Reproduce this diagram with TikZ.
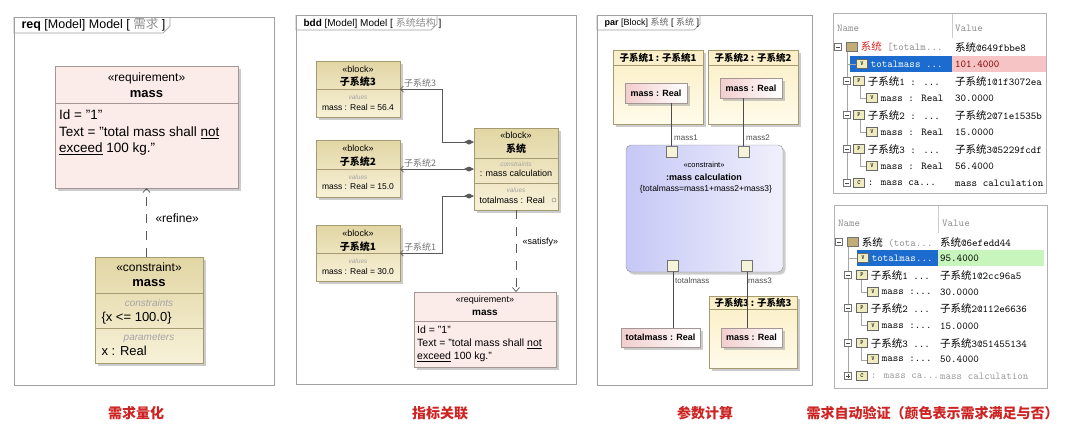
\documentclass[tikz,border=0pt]{standalone}
\usepackage{fontspec}
\setmainfont{Liberation Sans}
\newfontfamily\cjk{Noto Sans CJK SC}
\usetikzlibrary{arrows.meta, shadows, positioning}

\definecolor{framegray}{RGB}{160,160,160}
\definecolor{reqfill}{RGB}{251,236,233}
\definecolor{reqline}{RGB}{165,150,150}
\definecolor{tantop}{RGB}{226,214,164}
\definecolor{tanbot}{RGB}{247,241,216}
\definecolor{tanline}{RGB}{165,155,115}
\definecolor{parttop}{RGB}{250,238,196}
\definecolor{partbot}{RGB}{255,251,234}
\definecolor{proppink}{RGB}{242,205,205}
\definecolor{conblue}{RGB}{198,200,246}
\definecolor{conlight}{RGB}{240,240,252}
\definecolor{hintgray}{RGB}{165,165,165}
\definecolor{capred}{RGB}{205,35,35}
\definecolor{selblue}{RGB}{28,108,208}
\definecolor{badpink}{RGB}{246,196,196}
\definecolor{okgreen}{RGB}{200,245,188}
\definecolor{iconfill}{RGB}{238,236,190}
\definecolor{classbrown}{RGB}{196,172,120}

\newcommand{\fs}[2]{\fontsize{#1}{#2}\selectfont}
\newcommand{\zh}[1]{{\cjk #1}}
\newcommand{\qt}{\symbol{34}}
% one line of a value table: id, y, icon x, icon letter, name, value x, value
\newcommand{\trow}[7]{%
  \node[icon] (#1i) at (#3,#2) {#4};
  \node[cell, right=3pt of #1i] (#1n) {#5};
  \node[cell, anchor=west] (#1v) at (#6,#2) {#7};
}

\tikzset{
  frame/.style={draw=framegray, line width=0.7pt},
  wh/.style 2 args={minimum width=#1pt, minimum height=#2pt},
  boxshadow/.style={drop shadow={shadow xshift=2.5pt, shadow yshift=-2.5pt, fill=black!40}},
  reqbox/.style={draw=reqline, fill=reqfill, boxshadow, anchor=north west, inner sep=0pt, outer sep=0pt},
  tanbox/.style={draw=tanline, top color=tantop, bottom color=tanbot, boxshadow, anchor=north west, inner sep=0pt, outer sep=0pt},
  partbox/.style={draw=tanline, top color=parttop, bottom color=partbot, boxshadow, anchor=north west, inner sep=0pt, outer sep=0pt},
  propbox/.style={draw=reqline, left color=proppink, right color=white, boxshadow, anchor=north west, inner sep=0pt, outer sep=0pt, font=\fs{9}{10}\bfseries},
  conbox/.style={draw=black!45, rounded corners=5pt, left color=conblue, right color=conlight, boxshadow, anchor=north west, inner sep=0pt, outer sep=0pt},
  port/.style={draw=black!55, fill=iconfill!60, minimum size=11pt, inner sep=0pt, outer sep=0pt},
  reqsep/.style={draw=reqline, line width=0.6pt},
  tansep/.style={draw=tanline, line width=0.6pt},
  hint/.style={text=hintgray},
  body/.style={anchor=north west, align=left, inner sep=0pt},
  comp/.style={draw=black!65, line width=0.7pt, {Diamond[length=10pt,width=5pt]}-{Straight Barb[length=3pt,width=6pt]}},
  depend/.style={draw=black!65, line width=0.7pt, dash pattern=on 9pt off 8pt, -{Straight Barb[length=4pt,width=7pt]}},
  bind/.style={draw=black!70, line width=0.8pt},
  rolelbl/.style={text=black!55, font=\fs{9}{10}\cjk, inner sep=0pt},
  portlbl/.style={text=black!70, font=\fs{8}{9}, inner sep=0pt, anchor=west},
  icon/.style={draw=black!60, fill=iconfill, minimum width=11pt, minimum height=9pt, inner sep=0pt, font=\fs{6}{6}\bfseries\ttfamily},
  cell/.style={inner sep=0pt, font=\fs{10.5}{12}\ttfamily},
  treeline/.style={draw=black!35, line width=0.5pt},
  tableline/.style={draw=black!30, line width=0.7pt},
  caption/.style={text=capred, font=\fs{14}{16}\cjk\bfseries},
  tminus/.pic={\draw[black!55, fill=white, line width=0.4pt] (-3.5,-3.5) rectangle (3.5,3.5);
               \draw[black!70, line width=0.5pt] (-2,0) -- (2,0);},
  tplus/.pic={\draw[black!55, fill=white, line width=0.4pt] (-3.5,-3.5) rectangle (3.5,3.5);
              \draw[black!70, line width=0.5pt] (-2,0) -- (2,0) (0,-2) -- (0,2);},
}

\begin{document}
\begin{tikzpicture}[x=1pt, y=-1pt]
\useasboundingbox (0,0) rectangle (1080,432);

% requirement panel
\draw[frame] (14,17) rectangle (274,385);
\draw[frame] (14,17) |- (163,33) -- (170,26) -- (170,17);
\node[anchor=west, font=\fs{12.5}{14}] (tabA) at (18,25) {\textbf{req} [Model] Model [ \textcolor{black!45}{\zh{需求}} ]};

\node[reqbox, wh={183}{122}] (reqA) at (55,66) {};
\draw[reqsep] (55,103) -- (238,103);
\node[font=\fs{12}{14}] (reqAst) at (146.5,78) {«requirement»};
\node[font=\fs{13}{15}\bfseries] (reqAnm) at (146.5,94) {mass};
\node[body, font=\fs{13.5}{16.5}] (reqAtx) at (59,110)
  {Id = \qt1\qt\\Text = \qt total mass shall \underline{not}\\\underline{exceed} 100 kg.\qt};

\node[tanbox, wh={108}{106}] (conA) at (95,257) {};
\draw[tansep] (95,293) -- (203,293);
\draw[tansep] (95,328) -- (203,328);
\node[font=\fs{12}{14}] (conAst) at (149,267) {«constraint»};
\node[font=\fs{13}{15}\bfseries] (conAnm) at (149,283) {mass};
\node[hint, font=\fs{10}{12}\itshape] (conAc) at (149,303) {constraints};
\node[anchor=west, font=\fs{13}{15}] (conAx) at (98,318) {\{x <= 100.0\}};
\node[hint, font=\fs{10}{12}\itshape] (conAp) at (149,338) {parameters};
\node[anchor=west, font=\fs{13}{15}] (conAr) at (98,351) {x : Real};

\draw[depend] (reqA.south |- conA.north) -- (reqA.south);
\node[anchor=west, font=\fs{12}{14}] (refA) at (152,218) {«refine»};

% bdd panel
\draw[frame] (296,15) rectangle (576,384);
\draw[frame] (296,15) |- (431,30) -- (437,24) -- (437,15);
\node[anchor=west, font=\fs{10}{12}] (tabB) at (300,23) {\textbf{bdd} [Model] Model [ \textcolor{black!45}{\zh{系统结构}} ]};

\node[tanbox, wh={84}{56}] (blk3) at (316,61) {};
\draw[tansep] (316,89) -- (400,89);
\node[font=\fs{9}{10}] at (358,69) {«block»};
\node[font=\fs{10}{11}\cjk\bfseries] at (358,82) {子系统3};
\node[hint, font=\fs{6.5}{7}\itshape] at (358,97) {values};
\node[font=\fs{8.5}{10}] at (358,107) {mass : Real = 56.4};

\node[tanbox, wh={84}{57}] (blk2) at (316,140) {};
\draw[tansep] (316,169) -- (400,169);
\node[font=\fs{9}{10}] at (358,148) {«block»};
\node[font=\fs{10}{11}\cjk\bfseries] at (358,162) {子系统2};
\node[hint, font=\fs{6.5}{7}\itshape] at (358,177) {values};
\node[font=\fs{8.5}{10}] at (358,186) {mass : Real = 15.0};

\node[tanbox, wh={84}{56}] (blk1) at (316,225) {};
\draw[tansep] (316,253) -- (400,253);
\node[font=\fs{9}{10}] at (358,233) {«block»};
\node[font=\fs{10}{11}\cjk\bfseries] at (358,247) {子系统1};
\node[hint, font=\fs{6.5}{7}\itshape] at (358,261) {values};
\node[font=\fs{8.5}{10}] at (358,271) {mass : Real = 30.0};

\node[tanbox, wh={84}{82}] (sys) at (474,128) {};
\draw[tansep] (474,158) -- (558,158);
\draw[tansep] (474,183) -- (558,183);
\node[font=\fs{9}{10}] at (516,135) {«block»};
\node[font=\fs{10}{11}\cjk\bfseries] at (516,149) {系统};
\node[hint, font=\fs{6.5}{7}\itshape] at (516,164) {constraints};
\node[font=\fs{9}{10}] at (516,173) {: mass calculation};
\node[hint, font=\fs{6.5}{7}\itshape] at (516,190) {values};
\node[anchor=west, font=\fs{9}{10}] at (476,200) {totalmass : Real};
\draw[black!45, line width=0.5pt] (554,200) circle (2);

\draw[comp] ([yshift=27pt]sys.west) -- ++(-32,0) |- (blk3.east);
\draw[comp] (sys.west) -- (sys.west -| blk2.east);
\draw[comp] ([yshift=-27pt]sys.west) -- ++(-32,0) |- (blk1.east);
\node[rolelbl, anchor=south west] (r3) at ([xshift=4pt,yshift=2pt]blk3.east) {子系统3};
\node[rolelbl, anchor=south west] (r2) at ([xshift=4pt,yshift=2pt]sys.west -| blk2.east) {子系统2};
\node[rolelbl, anchor=south west] (r1) at ([xshift=4pt,yshift=2pt]blk1.east) {子系统1};

\node[reqbox, wh={142}{75}] (reqB) at (414,292) {};
\draw[reqsep] (414,321) -- (556,321);
\node[font=\fs{9}{10}] at (485,300) {«requirement»};
\node[font=\fs{10}{11}\bfseries] at (485,313) {mass};
\node[body, font=\fs{10.5}{13}] (reqBtx) at (417,326)
  {Id = \qt1\qt\\Text = \qt total mass shall \underline{not}\\\underline{exceed} 100 kg.\qt};

\draw[depend] (sys.south) -- (sys.south |- reqB.north);
\node[anchor=west, font=\fs{9}{10}] (satB) at (519,242) {«satisfy»};

% parametric panel
\draw[frame] (597,15) rectangle (812,385);
\draw[frame] (597,15) |- (694,30) -- (700,24) -- (700,15);
\node[anchor=west, font=\fs{9}{10}] (tabC) at (601,23) {\textbf{par} [Block] \textcolor{black!60}{\zh{系统}} [ \textcolor{black!60}{\zh{系统}} ]};

\node[partbox, wh={90}{74}] (part1) at (613,50) {};
\draw[tansep] (613,65) -- (703,65);
\node[font=\fs{9.5}{10}\cjk\bfseries] at (658,57.5) {子系统1 : 子系统1};
\node[propbox, wh={62}{20}] (prop1) at (625,83) {mass : Real};

\node[partbox, wh={90}{74}] (part2) at (708,50) {};
\draw[tansep] (708,65) -- (798,65);
\node[font=\fs{9.5}{10}\cjk\bfseries] at (753,57.5) {子系统2 : 子系统2};
\node[propbox, wh={62}{20}] (prop2) at (720,78) {mass : Real};

\node[conbox, wh={157}{127}] (calc) at (626,145) {};
\node[font=\fs{7.5}{9}] at (704,165) {«constraint»};
\node[font=\fs{9}{10}\bfseries] at (704,177) {:mass calculation};
\node[font=\fs{8.5}{10}] at (706,189) {\{totalmass=mass1+mass2+mass3\}};
\node[port] (p1) at (671.5,151.5) {};
\node[port] (p2) at (743.5,151.5) {};
\node[port] (pt) at (673,266) {};
\node[port] (p3) at (747,266) {};
\node[portlbl] at (674,138) {mass1};
\node[portlbl] at (746,138) {mass2};
\node[portlbl] at (675,281) {totalmass};
\node[portlbl] at (748,281) {mass3};

\node[partbox, wh={88}{72}] (part3) at (709,296) {};
\draw[tansep] (709,309) -- (797,309);
\node[font=\fs{9.5}{10}\cjk\bfseries] at (753,302.5) {子系统3 : 子系统3};
\node[propbox, wh={61}{19}] (prop3) at (721,328) {mass : Real};
\node[propbox, wh={79}{19}] (propT) at (621,328) {totalmass : Real};

\draw[bind] (p1.north |- prop1.south) -- (p1.north);
\draw[bind] (p2.north |- prop2.south) -- (p2.north);
\draw[bind] (pt.south) -- (pt.south |- propT.north);
\draw[bind] (p3.south) -- (p3.south |- prop3.north);

% value table, requirement not met
\begin{scope}
\clip (833,13) rectangle (1046,193);
\fill[selblue] (850,56) rectangle (952,72);
\fill[badpink] (952,56) rectangle (1046,72);
\draw[treeline] (847,52) -- (847,180);
\draw[treeline] (847,64) -- (857,64);
\foreach \y in {81,115,149} \draw[treeline] (860,\y+5) |- (866,\y+17);
\draw[black!20] (952,13) -- (952,38);
\pic at (838,47) {tminus};
\foreach \y in {81,115,149,183} \pic at (847,\y) {tminus};
\node[cell, anchor=west, text=black!45] (t1hn) at (837,28) {Name};
\node[cell, anchor=west, text=black!45] (t1hv) at (955,28) {Value};
\trow{t1r1}{47}{852}{}{\textcolor{capred}{\zh{系统}} \textcolor{black!45}{[totalm...}}{955}{\zh{系统}@649fbbe8}
\trow{t1r2}{64}{862}{V}{\textcolor{white}{totalmass ...}}{955}{\textcolor{red!50!black}{101.4000}}
\trow{t1r3}{81}{859}{P}{\zh{子系统}1 : ...}{955}{\zh{子系统}1@1f3072ea}
\trow{t1r4}{98}{872}{V}{mass : Real}{955}{30.0000}
\trow{t1r5}{115}{859}{P}{\zh{子系统}2 : ...}{955}{\zh{子系统}2@71e1535b}
\trow{t1r6}{132}{872}{V}{mass : Real}{955}{15.0000}
\trow{t1r7}{149}{859}{P}{\zh{子系统}3 : ...}{955}{\zh{子系统}3@5229fcdf}
\trow{t1r8}{166}{872}{V}{mass : Real}{955}{56.4000}
\trow{t1r9}{183}{859}{C}{: mass ca...}{955}{mass calculation}
\end{scope}
\node[fill=classbrown, draw=black!55, minimum width=11pt, minimum height=9pt, inner sep=0pt] at (t1r1i) {};
\draw[tableline] (833,13) rectangle (1046,193);

% value table, requirement met
\begin{scope}
\clip (834,205) rectangle (1047,388);
\fill[selblue] (857,250) rectangle (938,266);
\fill[okgreen] (938,250) rectangle (1044,266);
\draw[treeline] (848,247) -- (848,372);
\draw[treeline] (848,258) -- (857,258);
\foreach \y in {275,308,343} \draw[treeline] (861,\y+5) |- (867,\y+17);
\draw[black!20] (938,205) -- (938,233);
\pic at (839,242) {tminus};
\foreach \y in {275,308,343} \pic at (848,\y) {tminus};
\pic at (848,376) {tplus};
\node[cell, anchor=west, text=black!45] (t2hn) at (838,223) {Name};
\node[cell, anchor=west, text=black!45] (t2hv) at (942,223) {Value};
\trow{t2r1}{242}{853}{}{\zh{系统} \textcolor{black!45}{(tota...}}{940}{\zh{系统}@6efedd44}
\trow{t2r2}{258}{863}{V}{\textcolor{white}{totalmas...}}{940}{95.4000}
\trow{t2r3}{275}{862}{P}{\zh{子系统}1 ...}{940}{\zh{子系统}1@2cc96a5}
\trow{t2r4}{292}{873}{V}{mass :...}{940}{30.0000}
\trow{t2r5}{308}{862}{P}{\zh{子系统}2 ...}{940}{\zh{子系统}2@112e6636}
\trow{t2r6}{326}{873}{V}{mass :...}{940}{15.0000}
\trow{t2r7}{343}{862}{P}{\zh{子系统}3 ...}{940}{\zh{子系统}3@51455134}
\trow{t2r8}{359}{873}{V}{mass :...}{940}{50.4000}
\trow{t2r9}{376}{862}{C}{\textcolor{black!40}{: mass ca...}}{940}{\textcolor{black!40}{mass calculation}}
\end{scope}
\node[fill=classbrown, draw=black!55, minimum width=11pt, minimum height=9pt, inner sep=0pt] at (t2r1i) {};
\draw[tableline] (834,205) rectangle (1047,388);

% captions
\node[caption] (capA) at (136,413) {需求量化};
\node[caption] (capB) at (440,413) {指标关联};
\node[caption] (capC) at (705,413) {参数计算};
\node[caption, anchor=west] (capD) at (803,413) {需求自动验证（颜色表示需求满足与否）};
\end{tikzpicture}
\end{document}
